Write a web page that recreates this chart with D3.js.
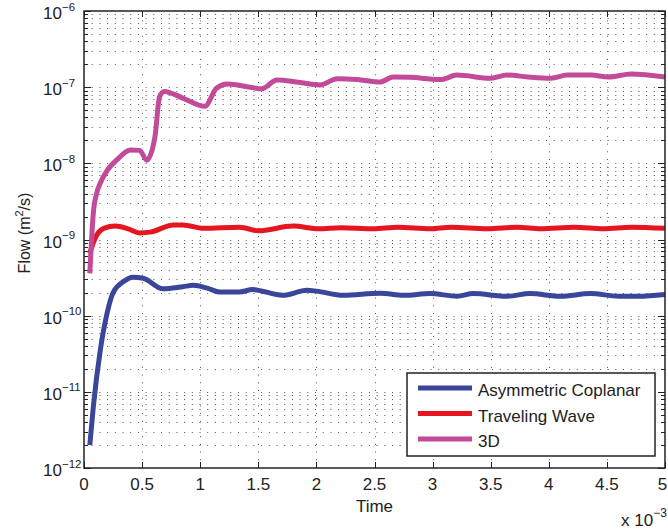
<!DOCTYPE html>
<html>
<head>
<meta charset="utf-8">
<script src="https://cdn.jsdelivr.net/npm/d3@7"></script>
<style>
  html, body { margin: 0; padding: 0; background: #fff; }
  svg { display: block; font-family: "Liberation Sans", Arial, Helvetica, sans-serif; }
</style>
</head>
<body>
<svg id="chart" width="668" height="531"></svg>
<script>
// Time values are in units of 10^-3 (see axis multiplier label)
const seriesNames = ["Asymmetric Coplanar", "Traveling Wave", "3D"];
const seriesColors = ["#3a4699", "#e5161f", "#c24a98"];

const coplanarTime = [0.05, 0.08, 0.14, 0.2, 0.25, 0.34, 0.42, 0.51, 0.68, 0.85, 0.94, 1.06, 1.17, 1.34, 1.45, 1.71, 1.92, 2.0, 2.23, 2.55, 2.75, 2.98, 3.21, 3.35, 3.64, 3.84, 4.1, 4.36, 4.6, 4.77, 5.0];
const coplanarFlow = [2.0e-12, 6.3e-12, 3.5e-11, 1.1e-10, 2.0e-10, 2.8e-10, 3.2e-10, 3.1e-10, 2.25e-10, 2.4e-10, 2.5e-10, 2.3e-10, 2.05e-10, 2.05e-10, 2.2e-10, 1.85e-10, 2.15e-10, 2.1e-10, 1.85e-10, 1.97e-10, 1.85e-10, 1.95e-10, 1.8e-10, 1.95e-10, 1.8e-10, 1.95e-10, 1.8e-10, 1.95e-10, 1.8e-10, 1.8e-10, 1.9e-10];

const travelingTime = [0.05, 0.1, 0.17, 0.27, 0.38, 0.48, 0.57, 0.77, 0.85, 1.03, 1.34, 1.5, 1.8, 2.02, 2.21, 2.49, 2.7, 2.98, 3.16, 3.47, 3.73, 3.93, 4.22, 4.47, 4.71, 5.0];
const travelingFlow = [6.6e-10, 1.07e-9, 1.4e-9, 1.5e-9, 1.38e-9, 1.22e-9, 1.25e-9, 1.55e-9, 1.55e-9, 1.4e-9, 1.45e-9, 1.3e-9, 1.5e-9, 1.38e-9, 1.43e-9, 1.38e-9, 1.45e-9, 1.38e-9, 1.45e-9, 1.38e-9, 1.45e-9, 1.38e-9, 1.45e-9, 1.38e-9, 1.45e-9, 1.4e-9];

const threeDTime = [0.05, 0.08, 0.11, 0.14, 0.2, 0.28, 0.4, 0.48, 0.54, 0.61, 0.65, 0.69, 0.85, 1.04, 1.14, 1.23, 1.43, 1.53, 1.66, 1.83, 2.03, 2.18, 2.35, 2.55, 2.66, 2.81, 2.98, 3.07, 3.21, 3.5, 3.64, 3.82, 4.02, 4.16, 4.36, 4.51, 4.71, 5.0];
const threeDFlow = [3.6e-10, 2.2e-9, 4.1e-9, 5.5e-9, 8.1e-9, 1.1e-8, 1.5e-8, 1.48e-8, 1.1e-8, 2.2e-8, 7.5e-8, 8.8e-8, 7.2e-8, 5.6e-8, 9.7e-8, 1.1e-7, 1.0e-7, 9.5e-8, 1.24e-7, 1.17e-7, 1.07e-7, 1.29e-7, 1.26e-7, 1.17e-7, 1.36e-7, 1.35e-7, 1.28e-7, 1.26e-7, 1.44e-7, 1.31e-7, 1.44e-7, 1.36e-7, 1.31e-7, 1.44e-7, 1.44e-7, 1.36e-7, 1.49e-7, 1.36e-7];

const xTicks = [0, 0.5, 1, 1.5, 2, 2.5, 3, 3.5, 4, 4.5, 5];
const yDecadeExponents = [-12, -11, -10, -9, -8, -7, -6];

const series = [
  { name: seriesNames[0], color: seriesColors[0], pts: coplanarTime.map((t, i) => [t, coplanarFlow[i]]) },
  { name: seriesNames[1], color: seriesColors[1], pts: travelingTime.map((t, i) => [t, travelingFlow[i]]) },
  { name: seriesNames[2], color: seriesColors[2], pts: threeDTime.map((t, i) => [t, threeDFlow[i]]) }
];

const W = 668;
const svg = d3.select("#chart");
const plotLeft = 84, plotRight = 665, plotTop = 11, plotBottom = 468;

const x = d3.scaleLinear().domain([0, 5]).range([plotLeft, plotRight]);
const y = d3.scaleLog().domain([1e-12, 1e-6]).range([plotBottom, plotTop]);

// minor + major log values
const logVals = [];
for (let e = -12; e < -6; e++) for (let m = 1; m <= 9; m++) logVals.push(m * Math.pow(10, e));
logVals.push(1e-6);

// dotted grid
const grid = svg.append("g").attr("stroke", "#555").attr("stroke-width", 1)
  .attr("stroke-dasharray", "1,6.7").attr("fill", "none");
grid.selectAll("line.h").data(logVals.filter(v => v > 1e-12 && v < 1e-6)).enter().append("line")
  .attr("x1", plotLeft).attr("x2", plotRight)
  .attr("y1", d => Math.round(y(d)) + 0.5).attr("y2", d => Math.round(y(d)) + 0.5);
grid.selectAll("line.v").data(xTicks.filter(t => t > 0 && t < 5)).enter().append("line")
  .attr("y1", plotBottom).attr("y2", plotTop)
  .attr("x1", d => Math.round(x(d)) + 0.5).attr("x2", d => Math.round(x(d)) + 0.5);

// ticks inside the frame
const ticks = svg.append("g").attr("stroke", "#222").attr("stroke-width", 1);
logVals.forEach(v => {
  const isMajor = Math.abs(Math.log10(v) - Math.round(Math.log10(v))) < 1e-9;
  const len = isMajor ? 7 : 4;
  const yy = Math.round(y(v)) + 0.5;
  ticks.append("line").attr("x1", plotLeft).attr("x2", plotLeft + len).attr("y1", yy).attr("y2", yy);
  ticks.append("line").attr("x1", plotRight - len).attr("x2", plotRight).attr("y1", yy).attr("y2", yy);
});
xTicks.forEach(t => {
  const xx = Math.round(x(t)) + 0.5;
  ticks.append("line").attr("x1", xx).attr("x2", xx).attr("y1", plotBottom).attr("y2", plotBottom - 6);
  ticks.append("line").attr("x1", xx).attr("x2", xx).attr("y1", plotTop).attr("y2", plotTop + 6);
});

// data lines
const line = d3.line().x(d => x(d[0])).y(d => y(d[1])).curve(d3.curveMonotoneX);
svg.append("g").selectAll("path").data(series).enter().append("path")
  .attr("d", d => line(d.pts))
  .attr("fill", "none")
  .attr("stroke", d => d.color)
  .attr("stroke-width", 5)
  .attr("stroke-linejoin", "round")
  .attr("stroke-linecap", "butt");

// frame
svg.append("rect").attr("x", plotLeft).attr("y", plotTop).attr("width", plotRight - plotLeft).attr("height", plotBottom - plotTop)
  .attr("fill", "none").attr("stroke", "#222").attr("stroke-width", 1.5);

// x tick labels (last one kept inside the page)
svg.append("g").selectAll("text").data(xTicks).enter().append("text")
  .attr("x", d => Math.min(x(d), W - 5.5)).attr("y", 490)
  .attr("text-anchor", "middle").attr("font-size", 17).attr("fill", "#222")
  .text(d => d3.format("")(d));

// y tick labels: 10^e
const yl = svg.append("g").attr("fill", "#222");
yDecadeExponents.forEach(e => {
  const yy = y(Math.pow(10, e));
  const t = yl.append("text").attr("x", 43).attr("y", yy + 8).attr("font-size", 17);
  t.append("tspan").text("10");
  t.append("tspan").attr("dy", -8.5).attr("font-size", 11.5).text("\u2212" + Math.abs(e));
});

// axis titles
svg.append("text").attr("x", (plotLeft + plotRight) / 2).attr("y", 512)
  .attr("text-anchor", "middle").attr("font-size", 17).attr("fill", "#222").text("Time");

const yt = svg.append("text").attr("transform", "translate(30,233) rotate(-90)")
  .attr("text-anchor", "middle").attr("font-size", 16).attr("fill", "#222");
yt.append("tspan").text("Flow (m");
yt.append("tspan").attr("dy", -7).attr("font-size", 11).text("2");
yt.append("tspan").attr("dy", 7).text("/s)");

const mult = svg.append("text").attr("x", 621).attr("y", 526).attr("font-size", 17).attr("fill", "#222");
mult.append("tspan").text("x 10");
mult.append("tspan").attr("dy", -9).attr("font-size", 12).text("\u22123");

// legend
const lg = svg.append("g");
lg.append("rect").attr("x", 407).attr("y", 373).attr("width", 248).attr("height", 83)
  .attr("fill", "#fff").attr("stroke", "#222").attr("stroke-width", 1.5);
const legendY = [388, 413.5, 439];
series.forEach((s, i) => {
  lg.append("line").attr("x1", 418).attr("x2", 472).attr("y1", legendY[i]).attr("y2", legendY[i])
    .attr("stroke", s.color).attr("stroke-width", 5);
  lg.append("text").attr("x", 478).attr("y", legendY[i] + 8).attr("font-size", 17).attr("fill", "#222").text(s.name);
});
</script>
</body>
</html>
